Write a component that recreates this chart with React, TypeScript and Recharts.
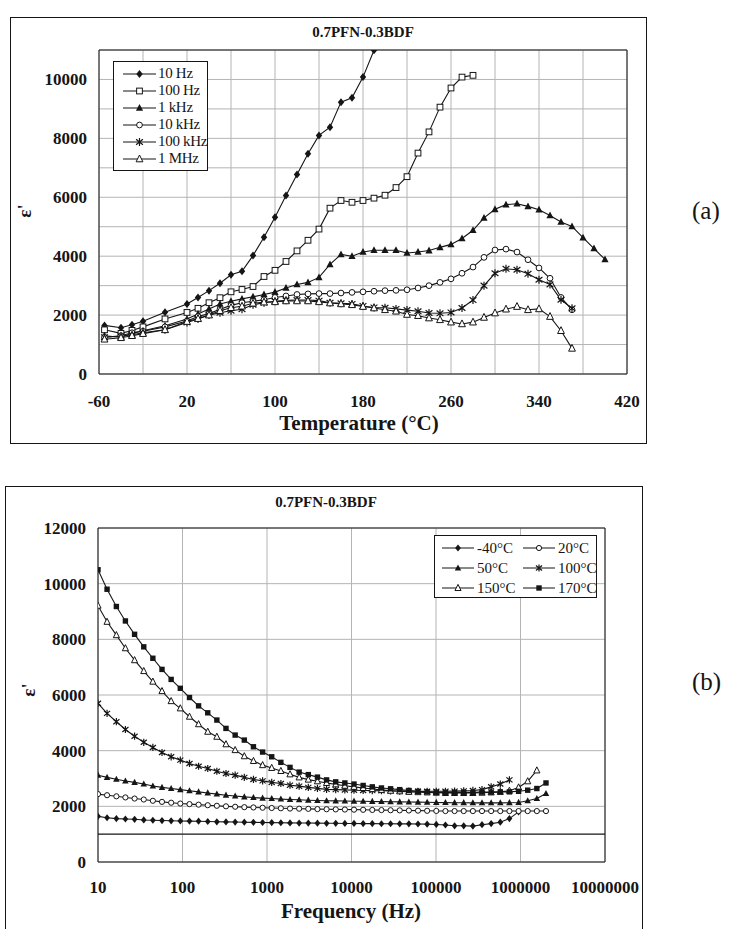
import React from "react"
import { CartesianGrid, Line, LineChart, ReferenceLine, XAxis, YAxis } from "recharts"

// ---- panel (a): permittivity vs temperature ----
const TEMPS = [-55, -40, -30, -20, 0, 20, 30, 40, 50, 60, 70, 80, 90, 100, 110, 120, 130, 140, 150, 160, 170, 180, 190, 200, 210, 220, 230, 240, 250, 260, 270, 280, 290, 300, 310, 320, 330, 340, 350, 360, 370, 380, 390, 400]
const EPS_10HZ = [1650, 1570, 1670, 1790, 2100, 2380, 2600, 2830, 3080, 3370, 3490, 4020, 4640, 5320, 6060, 6770, 7480, 8100, 8380, 9230, 9380, 10080, 10990]
const EPS_100HZ = [1500, 1380, 1480, 1600, 1870, 2090, 2230, 2420, 2590, 2790, 2870, 2970, 3310, 3520, 3820, 4180, 4540, 4920, 5630, 5890, 5830, 5890, 5970, 6070, 6330, 6700, 7500, 8220, 9060, 9710, 10080, 10140]
const EPS_1KHZ = [1300, 1250, 1380, 1470, 1640, 1870, 2040, 2210, 2380, 2470, 2550, 2620, 2700, 2780, 2920, 3040, 3110, 3280, 3720, 4060, 4000, 4140, 4200, 4200, 4200, 4110, 4140, 4190, 4300, 4400, 4600, 4880, 5300, 5590, 5750, 5780, 5690, 5580, 5380, 5160, 5010, 4630, 4260, 3890]
const EPS_10KHZ = [1250, 1300, 1400, 1450, 1600, 1800, 1950, 2050, 2200, 2330, 2420, 2470, 2520, 2600, 2650, 2700, 2720, 2730, 2730, 2750, 2770, 2790, 2810, 2830, 2840, 2860, 2920, 3000, 3110, 3230, 3420, 3630, 3960, 4210, 4240, 4140, 3880, 3600, 3250, 2600, 2180]
const EPS_100KHZ = [1250, 1280, 1330, 1400, 1500, 1750, 1870, 2000, 2080, 2150, 2200, 2350, 2420, 2470, 2500, 2510, 2510, 2490, 2420, 2400, 2380, 2310, 2260, 2250, 2210, 2170, 2130, 2070, 2060, 2090, 2240, 2510, 3000, 3420, 3570, 3540, 3400, 3200, 3040, 2520, 2230]
const EPS_1MHZ = [1180, 1230, 1300, 1370, 1500, 1780, 1880, 2000, 2150, 2250, 2300, 2400, 2440, 2450, 2480, 2480, 2480, 2450, 2410, 2380, 2350, 2290, 2240, 2180, 2130, 2020, 1980, 1900, 1840, 1760, 1700, 1760, 1920, 2070, 2200, 2290, 2180, 2210, 1950, 1470, 870]
const TEMP_TICKS = [-60, -20, 20, 60, 100, 140, 180, 220, 260, 300, 340, 380, 420]
const EPS_A_TICKS = [0, 1000, 2000, 3000, 4000, 5000, 6000, 7000, 8000, 9000, 10000, 11000]

// ---- panel (b): permittivity vs frequency ----
const FREQS = [10, 12.8, 16.5, 21.1, 27.1, 34.8, 44.6, 57.2, 73.4, 94.2, 121, 155, 199, 255, 327, 420, 539, 691, 887, 1137, 1459, 1872, 2401, 3081, 3953, 5070, 6505, 8345, 10706, 13735, 17620, 22606, 29000, 37210, 47730, 61240, 78560, 100800, 129300, 165900, 212800, 273100, 350300, 449400, 576600, 739600, 949000, 1217000, 1561000, 2003000]
const EPS_M40C = [1640, 1590, 1560, 1545, 1535, 1510, 1500, 1490, 1480, 1475, 1470, 1465, 1455, 1445, 1440, 1435, 1430, 1425, 1420, 1415, 1410, 1405, 1400, 1400, 1395, 1390, 1390, 1385, 1385, 1380, 1380, 1375, 1375, 1370, 1370, 1365, 1360, 1350, 1330, 1300, 1300, 1290, 1340, 1380, 1430, 1560, 1800]
const EPS_20C = [2440, 2400, 2360, 2320, 2280, 2245, 2200, 2160, 2130, 2100, 2080, 2060, 2040, 2020, 2000, 1985, 1970, 1960, 1950, 1940, 1930, 1920, 1915, 1910, 1900, 1895, 1890, 1885, 1880, 1875, 1870, 1865, 1860, 1855, 1850, 1845, 1840, 1835, 1830, 1830, 1830, 1830, 1830, 1830, 1830, 1830, 1830, 1830, 1830, 1830]
const EPS_50C = [3120, 3040, 2970, 2910, 2860, 2800, 2730, 2680, 2640, 2600, 2560, 2520, 2480, 2440, 2400, 2370, 2340, 2315, 2295, 2280, 2260, 2245, 2235, 2220, 2210, 2200, 2195, 2190, 2185, 2180, 2175, 2170, 2165, 2160, 2155, 2150, 2145, 2140, 2135, 2130, 2130, 2125, 2125, 2125, 2125, 2130, 2140, 2200, 2280, 2460]
const EPS_100C = [5700, 5340, 5040, 4760, 4520, 4300, 4115, 3935, 3780, 3660, 3540, 3440, 3360, 3260, 3180, 3120, 3040, 2965, 2915, 2860, 2820, 2760, 2725, 2680, 2645, 2610, 2600, 2590, 2580, 2570, 2565, 2560, 2555, 2550, 2545, 2540, 2540, 2540, 2540, 2545, 2555, 2570, 2600, 2700, 2800, 2950]
const EPS_150C = [9210, 8630, 8150, 7680, 7250, 6860, 6480, 6140, 5780, 5520, 5220, 4950, 4680, 4500, 4230, 4020, 3800, 3630, 3480, 3380, 3270, 3150, 3040, 2960, 2900, 2840, 2790, 2740, 2700, 2660, 2620, 2590, 2560, 2540, 2520, 2510, 2500, 2490, 2480, 2480, 2480, 2480, 2490, 2500, 2520, 2560, 2680, 2900, 3290]
const EPS_170C = [10500, 9800, 9180, 8660, 8180, 7730, 7320, 6920, 6560, 6240, 5910, 5610, 5360, 5100, 4800, 4560, 4380, 4140, 3950, 3780, 3580, 3400, 3230, 3140, 3050, 2950, 2880, 2840, 2800, 2750, 2700, 2660, 2630, 2600, 2570, 2540, 2520, 2500, 2500, 2500, 2500, 2500, 2510, 2510, 2520, 2520, 2540, 2580, 2640, 2840]
const FREQ_TICKS = [10, 100, 1000, 10000, 100000, 1000000, 10000000]
const EPS_B_TICKS = [0, 2000, 4000, 6000, 8000, 10000, 12000]

const FONT = '"Liberation Serif", serif'
const INK = "#151515"
const GRID = "#b4b4b4"

type Shape = "diamond" | "squareOpen" | "squareFilled" | "triFilled" | "triOpen" | "circleOpen" | "star"

const SERIES_A: { key: string; name: string; shape: Shape }[] = [
  { key: "f10", name: "10 Hz", shape: "diamond" },
  { key: "f100", name: "100 Hz", shape: "squareOpen" },
  { key: "f1k", name: "1 kHz", shape: "triFilled" },
  { key: "f10k", name: "10 kHz", shape: "circleOpen" },
  { key: "f100k", name: "100 kHz", shape: "star" },
  { key: "f1M", name: "1 MHz", shape: "triOpen" },
]

const SERIES_B: { key: string; name: string; shape: Shape }[] = [
  { key: "m40", name: "-40°C", shape: "diamond" },
  { key: "c20", name: "20°C", shape: "circleOpen" },
  { key: "c50", name: "50°C", shape: "triFilled" },
  { key: "c100", name: "100°C", shape: "star" },
  { key: "c150", name: "150°C", shape: "triOpen" },
  { key: "c170", name: "170°C", shape: "squareFilled" },
]

const dataA = TEMPS.map((t, i) => ({
  t,
  f10: EPS_10HZ[i] ?? null,
  f100: EPS_100HZ[i] ?? null,
  f1k: EPS_1KHZ[i] ?? null,
  f10k: EPS_10KHZ[i] ?? null,
  f100k: EPS_100KHZ[i] ?? null,
  f1M: EPS_1MHZ[i] ?? null,
}))

const dataB = FREQS.map((f, i) => ({
  f,
  m40: EPS_M40C[i] ?? null,
  c20: EPS_20C[i] ?? null,
  c50: EPS_50C[i] ?? null,
  c100: EPS_100C[i] ?? null,
  c150: EPS_150C[i] ?? null,
  c170: EPS_170C[i] ?? null,
}))

function Marker({ shape, cx, cy, s }: { shape: Shape; cx: number; cy: number; s: number }) {
  const sw = 1
  switch (shape) {
    case "diamond":
      return <polygon points={`${cx},${cy - s} ${cx + s * 0.8},${cy} ${cx},${cy + s} ${cx - s * 0.8},${cy}`} fill={INK} />
    case "squareOpen":
      return <rect x={cx - s * 0.72} y={cy - s * 0.72} width={s * 1.44} height={s * 1.44} fill="#fff" stroke={INK} strokeWidth={sw} />
    case "squareFilled":
      return <rect x={cx - s * 0.75} y={cy - s * 0.75} width={s * 1.5} height={s * 1.5} fill={INK} />
    case "triFilled":
      return <polygon points={`${cx},${cy - s} ${cx + s * 0.9},${cy + s * 0.7} ${cx - s * 0.9},${cy + s * 0.7}`} fill={INK} />
    case "triOpen":
      return <polygon points={`${cx},${cy - s} ${cx + s * 0.85},${cy + s * 0.7} ${cx - s * 0.85},${cy + s * 0.7}`} fill="#fff" stroke={INK} strokeWidth={sw} />
    case "circleOpen":
      return <circle cx={cx} cy={cy} r={s * 0.72} fill="#fff" stroke={INK} strokeWidth={sw} />
    case "star":
      return (
        <path
          d={`M${cx - s * 0.85},${cy - s * 0.7}L${cx + s * 0.85},${cy + s * 0.7}M${cx + s * 0.85},${cy - s * 0.7}L${cx - s * 0.85},${cy + s * 0.7}M${cx},${cy - s}L${cx},${cy + s}`}
          stroke={INK}
          strokeWidth={1.2}
          fill="none"
        />
      )
  }
  return null
}

function dotFor(shape: Shape, s: number) {
  return (p: any) => {
    if (p.cx == null || p.cy == null || p.value == null) return <g key={`e-${p.index}`} />
    return (
      <g key={`d-${p.index}`}>
        <Marker shape={shape} cx={p.cx} cy={p.cy} s={s} />
      </g>
    )
  }
}

const tickStyle = { fill: INK, fontSize: 17, fontWeight: 700, fontFamily: FONT }

export default function App() {
  return (
    <div style={{ position: "absolute", left: 0, top: 0, width: 731, height: 929, background: "#fff", fontFamily: FONT, color: INK, overflow: "hidden" }}>
      {/* panel (a) */}
      <div style={{ position: "absolute", left: 10, top: 17, width: 635, height: 425, border: `1px solid ${INK}` }} />
      <div style={{ position: "absolute", left: 0, top: 0 }}>
        <LineChart width={731} height={470} data={dataA} margin={{ top: 50, right: 104, left: 39, bottom: 66 }}>
          <CartesianGrid stroke={GRID} />
          <XAxis
            dataKey="t"
            type="number"
            domain={[-60, 420]}
            ticks={TEMP_TICKS}
            interval={0}
            tickSize={0}
            tickMargin={21}
            tickFormatter={(v: number) => ((v + 60) % 80 === 0 ? String(v) : "")}
            tick={tickStyle}
            axisLine={{ stroke: INK }}
            allowDataOverflow
          />
          <YAxis
            type="number"
            domain={[0, 11000]}
            ticks={EPS_A_TICKS}
            interval={0}
            tickSize={0}
            tickMargin={12}
            tickFormatter={(v: number) => (v % 2000 === 0 ? String(v) : "")}
            tick={tickStyle}
            axisLine={{ stroke: INK }}
            width={60}
            allowDataOverflow
          />
          <ReferenceLine x={420} stroke={INK} />
          <ReferenceLine y={11000} stroke={INK} />
          {SERIES_A.map((s) => (
            <Line
              key={s.key}
              dataKey={s.key}
              name={s.name}
              stroke={INK}
              strokeWidth={1.1}
              dot={dotFor(s.shape, 4)}
              activeDot={false}
              isAnimationActive={false}
            />
          ))}
        </LineChart>
      </div>
      <div style={{ position: "absolute", left: 263, top: 24, width: 200, textAlign: "center", fontSize: 15, fontWeight: 700 }}>0.7PFN-0.3BDF</div>
      <div style={{ position: "absolute", left: 209, top: 411, width: 300, textAlign: "center", fontSize: 21, fontWeight: 700 }}>Temperature (°C)</div>
      <div style={{ position: "absolute", left: 14, top: 199, width: 24, height: 24, transform: "rotate(-90deg)", fontSize: 19, fontWeight: 700, textAlign: "center" }}>ε'</div>
      <div style={{ position: "absolute", left: 692, top: 197, fontSize: 25 }}>(a)</div>
      <div style={{ position: "absolute", left: 113, top: 61, width: 95, height: 110, border: `1px solid ${INK}`, background: "#fff", paddingTop: 3, paddingLeft: 9, boxSizing: "border-box" }}>
        {SERIES_A.map((s) => (
          <div key={s.key} style={{ display: "flex", alignItems: "center", height: 17, whiteSpace: "nowrap" }}>
            <svg width={33} height={14} style={{ overflow: "visible", flex: "none" }}>
              <line x1={0} x2={33} y1={7} y2={7} stroke={INK} strokeWidth={1} />
              <Marker shape={s.shape} cx={16.5} cy={7} s={4} />
            </svg>
            <span style={{ marginLeft: 2, fontSize: 15, letterSpacing: -0.3, lineHeight: "17px" }}>{s.name}</span>
          </div>
        ))}
      </div>

      {/* panel (b) */}
      <div style={{ position: "absolute", left: 5, top: 486, width: 636, height: 460, border: `1px solid ${INK}` }} />
      <div style={{ position: "absolute", left: 0, top: 470 }}>
        <LineChart width={731} height={459} data={dataB} margin={{ top: 58, right: 126, left: 38, bottom: 37 }}>
          <CartesianGrid stroke={GRID} />
          <XAxis
            dataKey="f"
            type="number"
            scale="log"
            domain={[10, 10000000]}
            ticks={FREQ_TICKS}
            interval={0}
            tickSize={0}
            tickMargin={19}
            tickFormatter={(v: number) => String(v)}
            tick={tickStyle}
            axisLine={{ stroke: INK }}
            allowDataOverflow
          />
          <YAxis
            type="number"
            domain={[0, 12000]}
            ticks={EPS_B_TICKS}
            interval={0}
            tickSize={0}
            tickMargin={12}
            tick={tickStyle}
            axisLine={{ stroke: INK }}
            width={60}
          />
          <ReferenceLine x={10000000} stroke={INK} />
          <ReferenceLine y={12000} stroke={INK} />
          <ReferenceLine y={1000} stroke={INK} strokeWidth={1.2} />
          {SERIES_B.map((s) => (
            <Line
              key={s.key}
              dataKey={s.key}
              name={s.name}
              stroke={INK}
              strokeWidth={1.1}
              dot={dotFor(s.shape, 3.6)}
              activeDot={false}
              isAnimationActive={false}
            />
          ))}
        </LineChart>
      </div>
      <div style={{ position: "absolute", left: 226, top: 494, width: 200, textAlign: "center", fontSize: 15, fontWeight: 700 }}>0.7PFN-0.3BDF</div>
      <div style={{ position: "absolute", left: 201, top: 899, width: 300, textAlign: "center", fontSize: 21, fontWeight: 700 }}>Frequency (Hz)</div>
      <div style={{ position: "absolute", left: 18, top: 678, width: 24, height: 24, transform: "rotate(-90deg)", fontSize: 19, fontWeight: 700, textAlign: "center" }}>ε'</div>
      <div style={{ position: "absolute", left: 692, top: 668, fontSize: 25 }}>(b)</div>
      <div
        style={{
          position: "absolute",
          left: 434,
          top: 535,
          width: 163,
          height: 63,
          border: `1px solid ${INK}`,
          background: "#fff",
          boxSizing: "border-box",
          padding: "2px 0 0 7px",
          display: "grid",
          gridTemplateColumns: "81px 80px",
          gridAutoRows: "20px",
        }}
      >
        {SERIES_B.map((s) => (
          <div key={s.key} style={{ display: "flex", alignItems: "center", whiteSpace: "nowrap" }}>
            <svg width={32} height={14} style={{ overflow: "visible", flex: "none" }}>
              <line x1={0} x2={32} y1={7} y2={7} stroke={INK} strokeWidth={1} />
              <Marker shape={s.shape} cx={16} cy={7} s={3.6} />
            </svg>
            <span style={{ marginLeft: 3, fontSize: 15 }}>{s.name}</span>
          </div>
        ))}
      </div>
    </div>
  )
}
